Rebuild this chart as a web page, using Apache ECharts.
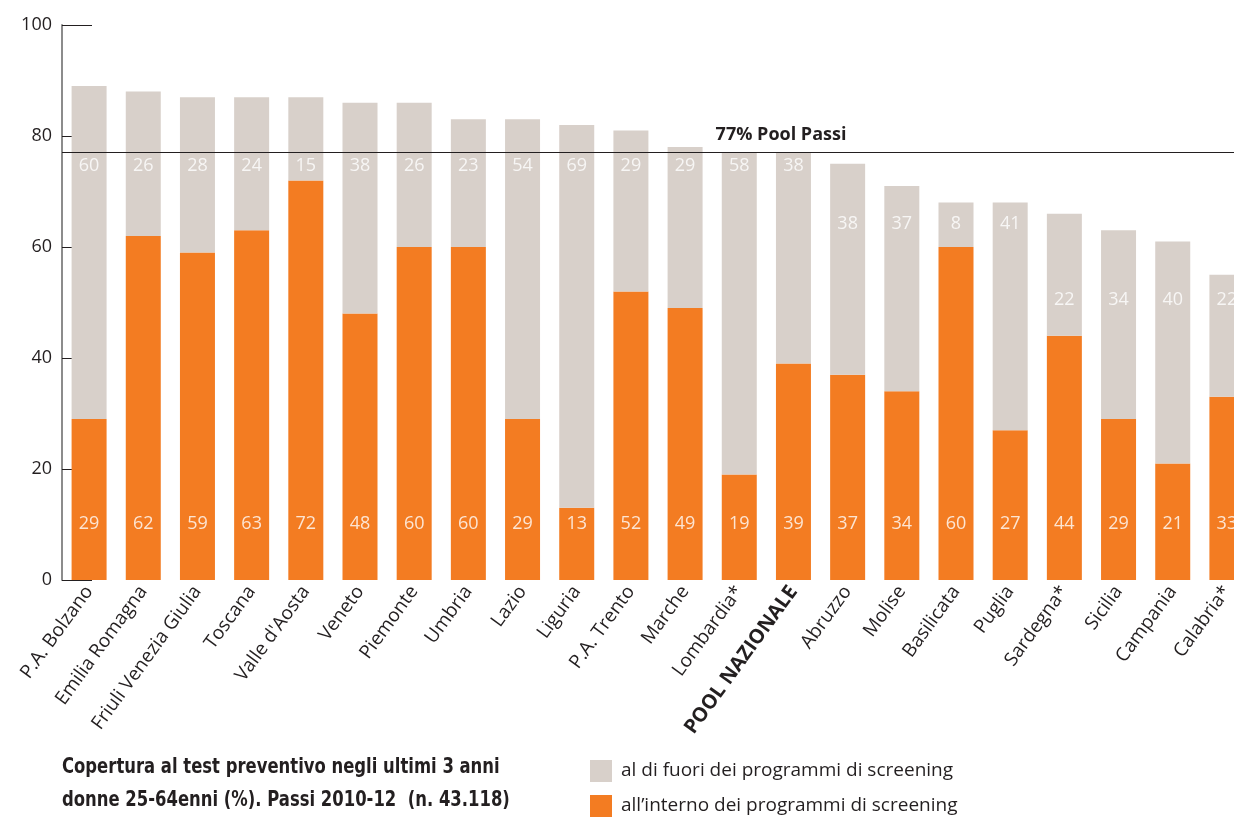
<!DOCTYPE html>
<html><head><meta charset="utf-8">
<script src="https://cdn.jsdelivr.net/npm/echarts@6/dist/echarts.min.js"></script>
<style>html,body{margin:0;padding:0;background:#fff;overflow:hidden}#c{width:1254px;height:818px}</style>
</head><body><div id="c"></div>
<script>
const categories = ["P.A. Bolzano","Emilia Romagna","Friuli Venezia Giulia","Toscana","Valle d'Aosta","Veneto","Piemonte","Umbria","Lazio","Liguria","P.A. Trento","Marche","Lombardia*","POOL NAZIONALE","Abruzzo","Molise","Basilicata","Puglia","Sardegna*","Sicilia","Campania","Calabria*"];
const inside = [29,62,59,63,72,48,60,60,29,13,52,49,19,39,37,34,60,27,44,29,21,33];
const outside = [60,26,28,24,15,38,26,23,54,69,29,29,58,38,38,37,8,41,22,34,40,22];
const poolValue = 77;
const poolLabel = "77% Pool Passi";
const seriesNames = ["al di fuori dei programmi di screening","all\u2019interno dei programmi di screening"];
const titleLines = ["Copertura al test preventivo negli ultimi 3 anni","donne 25-64enni (%). Passi 2010-12  (n. 43.118)"];

const GREY = '#d8d0ca', ORANGE = '#f37c22', INK = '#231f20';
const FONT = '"Open Sans", "Noto Sans", sans-serif';
const TFONT = 'bold 21px "Liberation Sans Narrow", "DejaVu Sans Condensed", sans-serif';

// label rows (style): inside labels near the bottom, outside labels in rows below the bar tops
function outsideLevel(total){ return total >= poolValue ? 74.6 : (total >= 67 ? 64.1 : 50.5); }
const insideLabelPts = categories.map((c,i)=>({value:[c, 10.1], lab: inside[i]}));
const outsideLabelPts = categories.map((c,i)=>({value:[c, outsideLevel(inside[i]+outside[i])], lab: outside[i]}));

const legendText = {fontFamily:FONT, fontSize:19, color:INK, padding:[0,0,0,4]};
const chart = echarts.init(document.getElementById('c'), null, {renderer:'canvas'});
chart.setOption({
  animation:false,
  grid:{left:62, right:0, top:25, bottom:238, containLabel:false},
  legend:[
    {left:590, top:760, padding:0, itemWidth:22, itemHeight:22, itemGap:10, icon:'rect', data:[seriesNames[0]], textStyle:legendText},
    {left:590, top:795, padding:0, itemWidth:22, itemHeight:22, itemGap:10, icon:'rect', data:[seriesNames[1]], textStyle:legendText}
  ],
  graphic:[
    {type:'text', left:62, top:757, scaleX:0.87, style:{text:titleLines[0], font:TFONT, fill:INK}},
    {type:'text', left:62, top:790, scaleX:0.87, style:{text:titleLines[1], font:TFONT, fill:INK}}
  ],
  xAxis:{
    type:'category', data:categories,
    axisLine:{show:false}, axisTick:{show:false},
    axisLabel:{
      interval:0, rotate:54, margin:8, fontFamily:FONT, fontSize:19, color:INK,
      formatter:(v)=> v==='POOL NAZIONALE' ? '{b|'+v+'}' : v,
      rich:{b:{fontWeight:'bold', fontFamily:FONT, fontSize:20, color:INK}}
    }
  },
  yAxis:{
    type:'value', min:0, max:100, interval:20,
    axisLine:{show:true, lineStyle:{color:'#8c8c8c', width:2}},
    axisTick:{show:true, inside:true, length:30, lineStyle:{color:INK, width:1}},
    splitLine:{show:false},
    axisLabel:{fontFamily:FONT, fontSize:18, color:INK, margin:10}
  },
  series:[
    {name:seriesNames[1], type:'bar', stack:'t', data:inside, barWidth:35, itemStyle:{color:ORANGE}, z:3},
    {name:seriesNames[0], type:'bar', stack:'t', data:outside, barWidth:35, itemStyle:{color:GREY}, z:3,
      markLine:{symbol:'none', silent:true, z:5,
        lineStyle:{color:INK, width:1, type:'solid'},
        label:{show:true, position:'insideMiddleTop', formatter:poolLabel, offset:[123,-4], fontFamily:FONT, fontWeight:'bold', fontSize:18, color:INK},
        data:[{yAxis:poolValue}]}
    },
    {type:'scatter', symbolSize:0, data:insideLabelPts, z:6, silent:true,
      label:{show:true, position:'inside', formatter:(p)=>p.data.lab, fontFamily:FONT, fontSize:18, color:'#fff'}},
    {type:'scatter', symbolSize:0, data:outsideLabelPts, z:6, silent:true,
      label:{show:true, position:'inside', formatter:(p)=>p.data.lab, fontFamily:FONT, fontSize:18, color:'#fff'}}
  ]
});
</script></body></html>
